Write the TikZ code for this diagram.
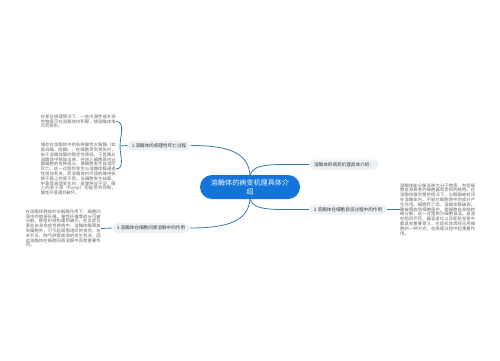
\documentclass[tikz,border=0pt]{standalone}
\usepackage{fontspec}
\newfontfamily\cjk{Noto Sans CJK SC}
\XeTeXlinebreaklocale "zh"
\XeTeXlinebreakskip = 0pt plus 0.6pt
\usetikzlibrary{positioning}
\definecolor{rootblue}{HTML}{1474DA}
\definecolor{linkblue}{HTML}{3A78B2}
\definecolor{topicgray}{HTML}{EDF0F4}
\definecolor{dkgray}{HTML}{3C3C3C}
\definecolor{notegray}{HTML}{6A6A6A}

\begin{document}
\begin{tikzpicture}[x=1pt, y=-1pt,
  root/.style={fill=rootblue, rounded corners=12pt, minimum width=100pt, minimum height=24pt,
    text width=84pt, align=center, inner sep=0pt, text=white, font=\cjk\fontsize{7}{8.6}\selectfont},
  topic/.style={fill=topicgray, rounded corners=5pt, minimum height=10pt, inner xsep=4.5pt,
    inner ysep=1pt, text=dkgray, font=\cjk\fontsize{4.6}{5.5}\selectfont},
  note/.style={text width=75pt, align=justify, inner sep=0pt, text=notegray,
    font=\cjk\fontsize{4.3}{4.8}\selectfont},
  branch/.style={draw=linkblue, line width=0.8pt}]

% Background / bounding box
\fill[white] (0,0) rectangle (500,360);
\useasboundingbox (0,0) rectangle (500,360);

% Centre
\node[root] (root) at (250,187) {溶酶体的病变机理具体介\\绍};

% Main topics
\node[topic] (topic1) at (159,145.5) {1.溶酶体的病理性死亡过程};
\node[topic] (intro)  at (344,164.5) {溶酶体的病变机理具体介绍：};
\node[topic] (topic2) at (348,209.5) {2.溶酶体在细胞自溶过程中的作用};
\node[topic] (topic3) at (151,228)   {3.溶酶体在细胞间质溶解中的作用};

% Branches from the centre
\draw[branch] (root.north) .. controls +(-2,-22) and +(38,0) .. (topic1.east);
\draw[branch] (root.north) .. controls +(4,-12) and +(-35,0) .. (intro.west);
\draw[branch] (root.south) .. controls +(4,12) and +(-35,0) .. (topic2.west);
\draw[branch] (root.south) .. controls +(-2,22) and +(38,0) .. (topic3.east);

% Notes of topic 1
\node[note, anchor=east] (note1a) at (116,121.5)
  {在某些病理情况下，一些内源性或外源性物质可在溶酶体内积聚，使溶酶体增大而损伤。};
\node[note, anchor=east] (note1b) at (116,169)
  {储存在溶酶体中的各种酸性水解酶（如蛋白酶、脂酶），在细胞受到损伤时，由于溶酶体膜的稳定性降低，于是酶从溶酶体中释放出来，并进入细胞质内分解细胞的各种成分，使细胞发生自溶而死亡。这一过程的发生与溶酶体膜通透性增加有关，而溶酶体内环境的维持依赖于膜上的质子泵。当细胞发生缺氧、中毒等病理变化时，能量供应不足，膜上的质子泵（Pump）功能受到抑制，酸性环境遭到破坏。};
\coordinate (bk1) at (120,146);
\draw[branch] (note1a.east) to[out=0, in=90] (bk1) -- (topic1.west);
\draw[branch] (note1b.east) to[out=0, in=-90] (bk1);

% Note of topic 2
\node[note, anchor=west] (note2) at (400,209.5)
  {溶酶体能分解多种大分子物质，包括细胞自身衰老的细胞器和受损的结构。在溶酶体膜完整的情况下，水解酶被封闭在溶酶体内，不能对细胞质中的成分产生作用。细胞死亡后，溶酶体膜破裂，酶被释放到细胞质中，使细胞自身结构被分解，这一过程称为细胞自溶。自溶在组织坏死、器官退化以及胚胎发育中都具有重要意义，也是机体清除无用细胞的一种方式，在病理过程中起重要作用。};
\draw[branch] (topic2.east) -- (note2.west);

% Note of topic 3
\node[note, anchor=east] (note3) at (101,228.5)
  {在溶酶体释放的水解酶作用下，细胞间质中的胶原纤维、弹性纤维等成分可被分解，使组织结构遭到破坏。在炎症及某些自身免疫性疾病中，溶酶体酶释放到细胞外，可引起周围组织的损伤，与关节炎、肺气肿等疾病的发生有关，因此溶酶体在细胞间质溶解中具有重要作用。};
\draw[branch] (note3.east) -- (topic3.west);

\end{tikzpicture}
\end{document}
